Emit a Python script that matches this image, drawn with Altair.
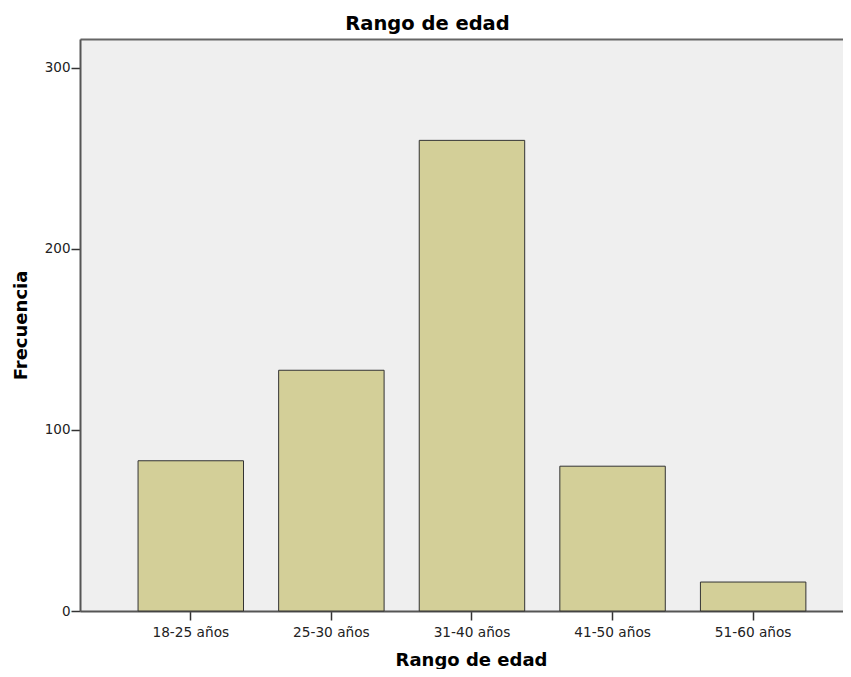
import altair as alt
import pandas as pd

categories = ["18-25 años", "25-30 años", "31-40 años", "41-50 años", "51-60 años"]
frecuencia = [83, 133, 260, 80, 16]
y_ticks = [0, 100, 200, 300]

df = pd.DataFrame({"Rango de edad": categories, "Frecuencia": frecuencia})

FONT = "DejaVu Sans"
x_scale = alt.Scale(paddingInner=0.25, paddingOuter=0.3385, align=0.61)
y_scale = alt.Scale(domain=[0, 316], nice=False)

bars = (
    alt.Chart(df)
    .mark_bar(color="#D3CF98", stroke="#333333", strokeWidth=1)
    .encode(
        x=alt.X(
            "Rango de edad:N",
            sort=categories,
            scale=x_scale,
            axis=alt.Axis(
                title="Rango de edad",
                labelAngle=0,
                labelFont=FONT,
                labelFontSize=13.7,
                labelColor="#222222",
                labelPadding=5,
                tickSize=9,
                tickWidth=1.5,
                tickColor="#333333",
                domainColor="#555555",
                domainWidth=2,
                titleFont=FONT,
                titleFontSize=18,
                titleFontWeight="bold",
                titleColor="#000000",
                titleBaseline="alphabetic",
                titleY=54,
                titleX=391,
            ),
        ),
        y=alt.Y(
            "Frecuencia:Q",
            scale=y_scale,
            axis=alt.Axis(
                title="Frecuencia",
                values=y_ticks,
                grid=False,
                labelFont=FONT,
                labelFontSize=13.5,
                labelColor="#222222",
                labelPadding=1,
                tickSize=9,
                tickWidth=1.5,
                tickColor="#333333",
                domainColor="#555555",
                domainWidth=2,
                titleFont=FONT,
                titleFontSize=18,
                titleFontWeight="bold",
                titleColor="#000000",
                titleX=-50,
            ),
        ),
    )
)

frame_top = (
    alt.Chart(df)
    .mark_tick(opacity=0)
    .encode(
        x=alt.X(
            "Rango de edad:N",
            sort=categories,
            scale=x_scale,
            axis=alt.Axis(
                orient="top",
                title="",
                labels=False,
                ticks=False,
                domainColor="#666666",
                domainWidth=2,
            ),
        ),
    )
)

chart = (
    alt.layer(bars, frame_top)
    .resolve_axis(x="independent")
    .properties(
        width=763,
        height=572,
        autosize=alt.AutoSizeParams(type="none"),
        padding={"left": 72, "top": 31, "right": 0, "bottom": 58},
        view=alt.ViewBackground(fill="#EFEFEF", strokeWidth=0),
        title=alt.TitleParams(
            "Rango de edad",
            font=FONT,
            fontSize=19.5,
            fontWeight="bold",
            color="#000000",
            anchor="middle",
            baseline="alphabetic",
            offset=10,
            dx=-34,
            dy=20,
        ),
    )
    .configure_view(fill="#EFEFEF", strokeWidth=0)
    .configure(background="#FFFFFF")
)

chart.save("out.html", embed_options={"renderer": "svg", "actions": False})
